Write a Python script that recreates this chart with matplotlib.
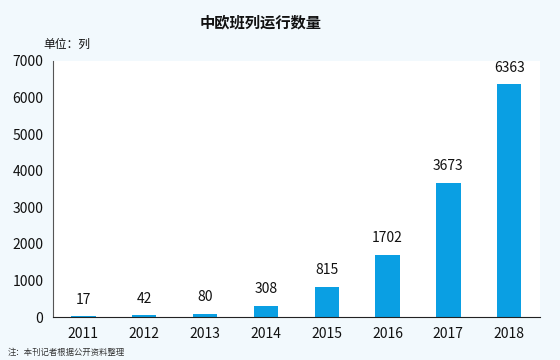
import matplotlib
matplotlib.use("Agg")
import matplotlib.pyplot as plt

plt.rcParams['font.family'] = ['Noto Sans CJK SC', 'DejaVu Sans']

years = ['2011', '2012', '2013', '2014', '2015', '2016', '2017', '2018']
trains = [17, 42, 80, 308, 815, 1702, 3673, 6363]
yticks = [0, 1000, 2000, 3000, 4000, 5000, 6000, 7000]

bg = '#f2f9fd'
bar_color = '#0a9fe3'

fig = plt.figure(figsize=(5.6, 3.6), dpi=100, facecolor=bg)
ax = fig.add_axes([0.0946, 0.1194, 0.869, 0.7112])
ax.set_facecolor('white')

x = range(len(years))
ax.bar(x, trains, width=0.4, color=bar_color)
for i, v in zip(x, trains):
    ax.annotate(str(v), (i, v), xytext=(0, 7), textcoords='offset points',
                ha='center', va='bottom', fontsize=10, color='#111111')

ax.set_xlim(-0.5, 7.5)
ax.set_ylim(0, 7000)
ax.set_xticks(list(x))
ax.set_xticklabels(years)
ax.set_yticks(yticks)
ax.tick_params(axis='both', length=0, labelsize=10, colors='#111111')
ax.tick_params(axis='y', pad=7)
ax.tick_params(axis='x', pad=7)

for s in ['top', 'right']:
    ax.spines[s].set_visible(False)
ax.spines['left'].set_color('#555555')
ax.spines['bottom'].set_color('#222222')

fig.text(0.466, 0.938, '中欧班列运行数量', ha='center', va='center',
         fontsize=11, fontweight='bold', color='#111111')
fig.text(0.077, 0.877, '单位：列', ha='left', va='center', fontsize=8.5, color='#111111')
fig.text(0.014, 0.022, '注：本刊记者根据公开资料整理', ha='left', va='center',
         fontsize=6, color='#333333')

fig.savefig('out.png', dpi=100, facecolor=bg)
